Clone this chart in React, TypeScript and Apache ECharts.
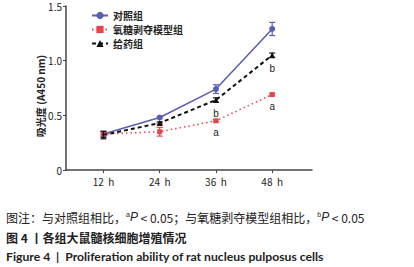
import React, { useEffect, useRef } from "react";
import * as echarts from "echarts";

const hours = [12, 24, 36, 48];
const seriesNames = ["对照组", "氧糖剥夺模型组", "给药组"];
const controlMean = [0.33, 0.48, 0.74, 1.29];
const controlErr = [0.02, 0.01, 0.04, 0.06];
const ogdMean = [0.33, 0.35, 0.45, 0.69];
const ogdErr = [0.02, 0.04, 0.01, 0.01];
const drugMean = [0.32, 0.43, 0.64, 1.05];
const drugErr = [0.035, 0.01, 0.02, 0.02];
const ogdMarks = ["", "", "a", "a"];
const drugMarks = ["", "", "b", "b"];
const yTicks = [0, 0.5, 1.0, 1.5];
const yTickLabels = ["0", "0.5", "1.0", "1.5"];
const yAxisTitle = "吸光度 (A450 nm)";
const noteLine = "图注：与对照组相比，{sup|a}{it|P} < 0.05；与氧糖剥夺模型组相比，{sup|b}{it|P} < 0.05";
const titleCn = "图 4 丨各组大鼠髓核细胞增殖情况";
const titleEn = "Figure 4  |  Proliferation ability of rat nucleus pulposus cells";

const BLUE = "#5a5db0";
const RED = "#e8444a";
const BLACK = "#111111";

function errSeries(name: string, means: number[], errs: number[], color: string) {
  return {
    type: "custom",
    name: name + "-err",
    silent: true,
    z: 5,
    data: hours.map((h, i) => [h, means[i] - errs[i], means[i] + errs[i]]),
    renderItem: (params: any, api: any) => {
      const x = api.value(0);
      const lo = api.coord([x, api.value(1)]);
      const hi = api.coord([x, api.value(2)]);
      const w = 3;
      const st = { stroke: color, lineWidth: 1.2 };
      return {
        type: "group",
        children: [
          { type: "line", shape: { x1: lo[0], y1: lo[1], x2: hi[0], y2: hi[1] }, style: st },
          { type: "line", shape: { x1: lo[0] - w, y1: lo[1], x2: lo[0] + w, y2: lo[1] }, style: st },
          { type: "line", shape: { x1: hi[0] - w, y1: hi[1], x2: hi[0] + w, y2: hi[1] }, style: st },
        ],
      };
    },
  };
}

export default function App() {
  const ref = useRef<HTMLDivElement>(null);
  useEffect(() => {
    document.body.style.margin = "0";
    const chart = echarts.init(ref.current!, null, { renderer: "svg" });
    const font = "'Noto Sans CJK SC', 'Noto Sans', sans-serif";
    const markLabel = (marks: string[], dist: number) => ({
      show: true,
      position: "bottom",
      distance: dist,
      fontSize: 10,
      color: "#222222",
      textBorderWidth: 0,
      fontFamily: "'Liberation Sans', sans-serif",
      formatter: (p: any) => marks[p.dataIndex],
    });
    chart.setOption({
      animation: false,
      textStyle: { fontFamily: font },
      grid: { left: 66, top: 6, right: 102, bottom: 97 },
      legend: {
        orient: "vertical",
        left: 86,
        top: 5,
        itemWidth: 16,
        itemHeight: 9,
        itemGap: 3,
        data: seriesNames,
        textStyle: { fontSize: 10, lineHeight: 11, color: "#222", fontFamily: font, fontWeight: "bold" },
      },
      xAxis: {
        type: "value",
        min: 4,
        max: 56.5,
        splitLine: { show: false },
        axisLine: { lineStyle: { color: "#444", width: 1.5 } },
        axisTick: { show: true, length: 3, customValues: hours, lineStyle: { color: "#444" } },
        axisLabel: {
          customValues: hours,
          formatter: (v: number) => v + "  h",
          fontSize: 10,
          color: "#222",
          margin: 6,
        },
      },
      yAxis: {
        type: "value",
        min: 0,
        max: 1.5,
        interval: 0.5,
        splitLine: { show: false },
        axisLine: { show: true, lineStyle: { color: "#444", width: 1.5 } },
        axisTick: { show: true, length: 3, lineStyle: { color: "#444" } },
        axisLabel: {
          fontSize: 10,
          color: "#222",
          margin: 4,
          formatter: (v: number) => yTickLabels[yTicks.indexOf(v)] ?? String(v),
        },
      },
      series: [
        {
          name: seriesNames[0],
          type: "line",
          data: hours.map((h, i) => [h, controlMean[i]]),
          symbol: "circle",
          symbolSize: 6,
          itemStyle: { color: BLUE },
          lineStyle: { color: BLUE, width: 1.5, type: "solid" },
          z: 3,
        },
        {
          name: seriesNames[1],
          type: "line",
          data: hours.map((h, i) => [h, ogdMean[i]]),
          symbol: "rect",
          symbolSize: 5,
          itemStyle: { color: RED },
          lineStyle: { color: RED, width: 1.5, type: [1.5, 3] },
          label: markLabel(ogdMarks, 4),
          z: 3,
        },
        {
          name: seriesNames[2],
          type: "line",
          data: hours.map((h, i) => [h, drugMean[i]]),
          symbol: "triangle",
          symbolSize: 6,
          itemStyle: { color: BLACK },
          lineStyle: { color: BLACK, width: 2, type: [4, 3] },
          label: markLabel(drugMarks, 5),
          z: 4,
        },
        errSeries(seriesNames[0], controlMean, controlErr, BLUE),
        errSeries(seriesNames[1], ogdMean, ogdErr, RED),
        errSeries(seriesNames[2], drugMean, drugErr, BLACK),
      ],
      graphic: [
        {
          type: "text",
          x: 40,
          y: 96,
          rotation: Math.PI / 2,
          style: {
            text: yAxisTitle,
            fontSize: 10,
            fontWeight: "bold",
            fill: "#222",
            align: "center",
            verticalAlign: "middle",
            fontFamily: font,
          },
        },
        {
          type: "text",
          x: 6,
          y: 217,
          style: {
            text: noteLine,
            fontSize: 12,
            fill: "#222",
            verticalAlign: "middle",
            fontFamily: font,
            rich: {
              sup: { fontSize: 7, fill: "#222", verticalAlign: "top", padding: [0, 0, 6, 0] },
              it: { fontSize: 12, fontStyle: "italic", fill: "#222", fontFamily: "'Liberation Sans', sans-serif" },
            },
          },
        },
        {
          type: "text",
          x: 6,
          y: 237.5,
          style: {
            text: titleCn,
            fontSize: 12,
            fontWeight: "bold",
            fill: "#222",
            verticalAlign: "middle",
            fontFamily: font,
          },
        },
        {
          type: "text",
          x: 6,
          y: 256.5,
          style: {
            text: titleEn,
            fontSize: 12.2,
            fontWeight: "bold",
            fill: "#222",
            verticalAlign: "middle",
            fontFamily: "Lato, 'Liberation Sans', sans-serif",
          },
        },
      ],
    });
    return () => chart.dispose();
  }, []);
  return <div ref={ref} style={{ width: 414, height: 267 }} />;
}
